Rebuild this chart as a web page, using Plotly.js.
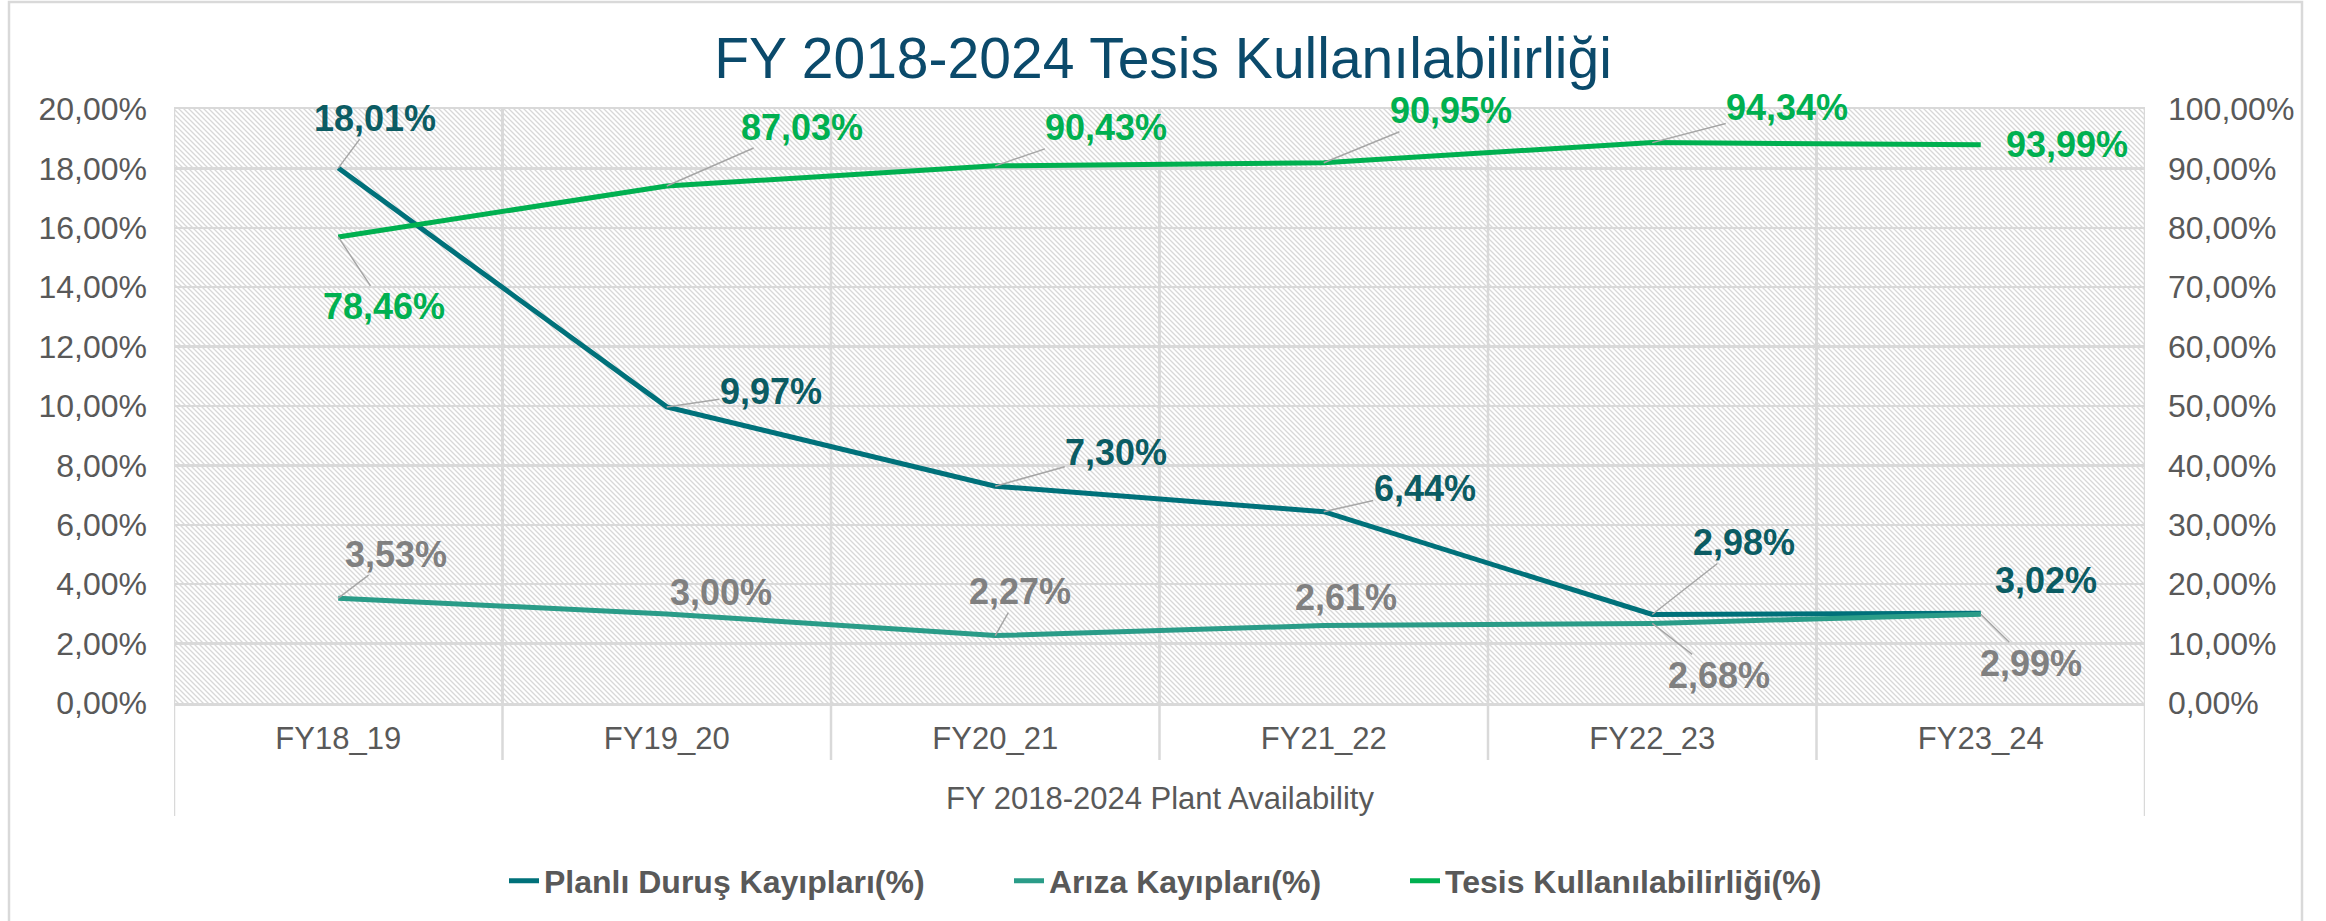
<!DOCTYPE html>
<html>
<head>
<meta charset="utf-8">
<script src="https://cdn.plot.ly/plotly-3.0.1.min.js"></script>
<style>html,body{margin:0;padding:0;background:#fff}#chart{width:2326px;height:921px}</style>
</head>
<body>
<div id="chart"></div>
<script>
// ---------------- DATA ----------------
const categories = ['FY18_19', 'FY19_20', 'FY20_21', 'FY21_22', 'FY22_23', 'FY23_24'];
const planliDurus = [18.01, 9.97, 7.30, 6.44, 2.98, 3.02];   // left axis (%)
const arizaKayip  = [3.53, 3.00, 2.27, 2.61, 2.68, 2.99];    // left axis (%)
const tesisKullan = [78.46, 87.03, 90.43, 90.95, 94.34, 93.99]; // right axis (%)
const seriesNames = ['Planlı Duruş Kayıpları(%)', 'Arıza Kayıpları(%)', 'Tesis Kullanılabilirliği(%)'];
const chartTitle = 'FY 2018-2024 Tesis Kullanılabilirliği';
const groupLabel = 'FY 2018-2024 Plant Availability';

// ---------------- LAYOUT / STYLE ----------------
const FONT = 'Arial, "Liberation Sans", sans-serif';
const W = 2326, H = 921, L = 174, R = 2145, T = 109, B = 703;
const py = y => (B - y) / (B - T);
const pxp = x => (x - L) / (R - L);
const GRID = '#D9D9D9';
const TXT = '#595959';
const colors = ['#00717A', '#2A9C88', '#00B050'];
const labelColors = ['#0B5C63', '#808080', '#00B050'];

// label offsets (pixels from the point) and whether a leader line is drawn
const labelOffsets = [
  [[37,-50],[104,-15],[121,-34],[101,-23],[92,-72],[65,-33]],
  [[58,-44],[54,-21],[25,-44],[22,-28],[67,52],[50,49]],
  [[46,70],[135,-59],[111,-38],[127,-52],[135,-35],[86,0]]
];
const leaders = [
  [1,1,1,1,1,0],
  [1,0,1,0,1,1],
  [1,1,1,1,1,0]
];
// legend entry pixel x positions (left edge of each legend)
const legendX = [504, 1009, 1405];
const legendIds = ['legend', 'legend2', 'legend3'];

const seriesVals = [planliDurus, arizaKayip, tesisKullan];
const seriesAxis = ['y', 'y', 'y2'];

const traces = seriesVals.map((vals, i) => ({
  x: categories, y: vals, type: 'scatter', mode: 'lines', name: seriesNames[i],
  yaxis: seriesAxis[i], legend: legendIds[i],
  line: {color: colors[i], width: 5}, hoverinfo: 'skip'
}));

const fmt = v => v.toFixed(2).replace('.', ',') + '%';

const annotations = [];
seriesVals.forEach((vals, s) => {
  vals.forEach((v, k) => {
    const [dx, dy] = labelOffsets[s][k];
    const base = {
      x: categories[k], y: v, xref: 'x', yref: seriesAxis[s],
      text: fmt(v),
      font: {family: FONT, size: 36, color: labelColors[s], weight: 'bold'}
    };
    if (leaders[s][k]) {
      Object.assign(base, {showarrow: true, arrowhead: 0, arrowwidth: 1.5, arrowcolor: '#A6A6A6',
        ax: dx, ay: dy, standoff: 0, borderpad: 0});
    } else {
      Object.assign(base, {showarrow: false, xshift: dx, yshift: -dy});
    }
    annotations.push(base);
  });
});
annotations.push({
  text: groupLabel, xref: 'paper', yref: 'paper', x: 0.5, y: py(798),
  showarrow: false, xanchor: 'center', yanchor: 'middle',
  font: {family: FONT, size: 31, color: TXT}
});

// category separators below the plot area
const shapes = [];
for (let i = 0; i < categories.length - 1; i++) {
  shapes.push({type: 'line', xref: 'x', yref: 'paper', x0: i + 0.5, x1: i + 0.5, y0: 1, y1: py(760),
    line: {color: GRID, width: 2.5}, layer: 'below'});
}
[-0.5, categories.length - 0.5].forEach(xv => {
  shapes.push({type: 'line', xref: 'x', yref: 'paper', x0: xv, x1: xv, y0: 1, y1: py(816),
    line: {color: GRID, width: 2.5}, layer: 'below'});
});
// outer chart border
shapes.push({type: 'rect', xref: 'paper', yref: 'paper', x0: pxp(9), x1: pxp(2302), y0: py(930), y1: py(2),
  line: {color: '#D9D9D9', width: 2.5}, fillcolor: 'rgba(0,0,0,0)', layer: 'below'});

// hatched plot background
const pw = R - L, ph = B - T;
const svg = `<svg xmlns="http://www.w3.org/2000/svg" width="${pw}" height="${ph}" viewBox="0 0 ${pw} ${ph}">` +
  `<defs><pattern id="p" width="5" height="5" patternUnits="userSpaceOnUse">` +
  `<path d="M-1,-1 L6,6 M-1,4 L1,6 M4,-1 L6,1" stroke="#D8D8D8" stroke-width="1.35"/></pattern></defs>` +
  `<rect width="${pw}" height="${ph}" fill="#ffffff"/><rect width="${pw}" height="${ph}" fill="url(#p)"/></svg>`;

const axisFont = {family: FONT, size: 32, color: TXT};

const layout = {
  width: W, height: H,
  margin: {l: L, r: W - R, t: T, b: H - B, pad: 0},
  paper_bgcolor: '#ffffff', plot_bgcolor: '#ffffff',
  separators: ',.',
  showlegend: true,
  title: {text: chartTitle, x: 0.5, xanchor: 'center', xref: 'container', y: 1 - 58 / H, yanchor: 'middle', yref: 'container',
    font: {family: FONT, size: 57, color: '#0B4A6B'}},
  xaxis: {
    type: 'category', range: [-0.5, categories.length - 0.5], tickson: 'boundaries',
    showgrid: true, gridcolor: GRID, gridwidth: 2.5,
    showline: true, mirror: true, linecolor: GRID, linewidth: 2.5,
    ticks: '', ticklabelstandoff: 6,
    tickfont: {family: FONT, size: 31, color: TXT}, fixedrange: true
  },
  yaxis: {
    range: [0, 20], dtick: 2, tick0: 0, tickformat: '.2f', ticksuffix: '%',
    showgrid: true, gridcolor: GRID, gridwidth: 2.5, zeroline: false, showline: false,
    ticks: '', ticklabelstandoff: 26, tickfont: axisFont, fixedrange: true
  },
  yaxis2: {
    range: [0, 100], dtick: 10, tick0: 0, tickformat: '.2f', ticksuffix: '%',
    overlaying: 'y', side: 'right', showgrid: false, zeroline: false, showline: false,
    ticks: '', ticklabelstandoff: 22, tickfont: axisFont, fixedrange: true
  },
  images: [{
    source: 'data:image/svg+xml;charset=utf-8,' + encodeURIComponent(svg),
    xref: 'paper', yref: 'paper', x: 0, y: 1, sizex: 1, sizey: 1,
    xanchor: 'left', yanchor: 'top', sizing: 'stretch', layer: 'below'
  }],
  shapes: shapes,
  annotations: annotations
};

legendIds.forEach((id, i) => {
  layout[id] = {
    orientation: 'h', x: pxp(legendX[i]), xanchor: 'left', xref: 'paper', y: py(881), yanchor: 'middle',
    font: {family: FONT, size: 32, color: TXT, weight: 'bold'},
    bgcolor: 'rgba(0,0,0,0)', borderwidth: 0
  };
});

Plotly.newPlot('chart', traces, layout, {staticPlot: true, displayModeBar: false});
</script>
</body>
</html>
